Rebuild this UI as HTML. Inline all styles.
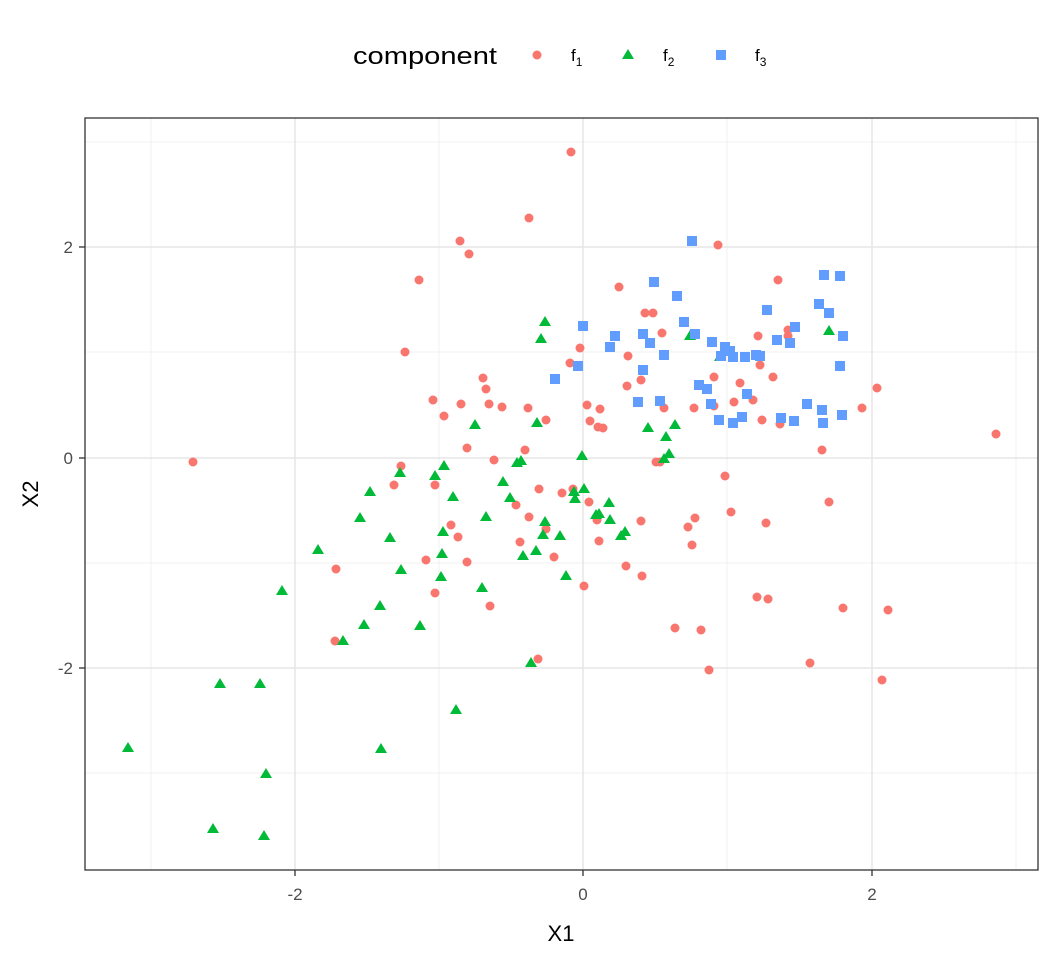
<!DOCTYPE html>
<html><head><style>body{margin:0;background:#fff}</style></head><body>
<svg width="1056" height="960" xmlns="http://www.w3.org/2000/svg" font-family="Liberation Sans, sans-serif">
<rect width="1056" height="960" fill="#fff"/>
<g stroke="#f0f0f0" stroke-width="1">
<line x1="151" y1="118" x2="151" y2="870"/><line x1="439" y1="118" x2="439" y2="870"/><line x1="727" y1="118" x2="727" y2="870"/><line x1="1016" y1="118" x2="1016" y2="870"/>
<line x1="85" y1="142" x2="1038" y2="142"/><line x1="85" y1="352" x2="1038" y2="352"/><line x1="85" y1="563" x2="1038" y2="563"/><line x1="85" y1="773" x2="1038" y2="773"/>
</g>
<g stroke="#e6e6e6" stroke-width="1.5">
<line x1="295" y1="118" x2="295" y2="870"/><line x1="583" y1="118" x2="583" y2="870"/><line x1="872" y1="118" x2="872" y2="870"/>
<line x1="85" y1="247" x2="1038" y2="247"/><line x1="85" y1="458" x2="1038" y2="458"/><line x1="85" y1="668" x2="1038" y2="668"/>
</g>
<g fill="#F8766D">
<circle cx="571" cy="152" r="4.5"/><circle cx="529" cy="218" r="4.5"/><circle cx="460" cy="241" r="4.5"/><circle cx="469" cy="254" r="4.5"/><circle cx="419" cy="280" r="4.5"/><circle cx="718" cy="245" r="4.5"/><circle cx="619" cy="287" r="4.5"/><circle cx="778" cy="280" r="4.5"/><circle cx="405" cy="352" r="4.5"/><circle cx="653" cy="313" r="4.5"/><circle cx="580" cy="348" r="4.5"/><circle cx="570" cy="363" r="4.5"/><circle cx="546" cy="420" r="4.5"/><circle cx="486" cy="389" r="4.5"/><circle cx="461" cy="404" r="4.5"/><circle cx="433" cy="400" r="4.5"/><circle cx="444" cy="416" r="4.5"/><circle cx="489" cy="404" r="4.5"/><circle cx="502" cy="407" r="4.5"/><circle cx="528" cy="408" r="4.5"/><circle cx="525" cy="450" r="4.5"/><circle cx="494" cy="460" r="4.5"/><circle cx="467" cy="448" r="4.5"/><circle cx="627" cy="386" r="4.5"/><circle cx="641" cy="380" r="4.5"/><circle cx="662" cy="333" r="4.5"/><circle cx="664" cy="408" r="4.5"/><circle cx="694" cy="408" r="4.5"/><circle cx="714" cy="406" r="4.5"/><circle cx="734" cy="402" r="4.5"/><circle cx="740" cy="383" r="4.5"/><circle cx="753" cy="400" r="4.5"/><circle cx="773" cy="377" r="4.5"/><circle cx="760" cy="365" r="4.5"/><circle cx="758" cy="336" r="4.5"/><circle cx="788" cy="330" r="4.5"/><circle cx="788" cy="336" r="4.5"/><circle cx="762" cy="420" r="4.5"/><circle cx="780" cy="424" r="4.5"/><circle cx="822" cy="450" r="4.5"/><circle cx="862" cy="408" r="4.5"/><circle cx="877" cy="388" r="4.5"/><circle cx="996" cy="434" r="4.5"/><circle cx="193" cy="462" r="4.5"/><circle cx="401" cy="466" r="4.5"/><circle cx="394" cy="485" r="4.5"/><circle cx="435" cy="485" r="4.5"/><circle cx="451" cy="525" r="4.5"/><circle cx="458" cy="537" r="4.5"/><circle cx="467" cy="562" r="4.5"/><circle cx="336" cy="569" r="4.5"/><circle cx="426" cy="560" r="4.5"/><circle cx="435" cy="593" r="4.5"/><circle cx="490" cy="606" r="4.5"/><circle cx="335" cy="641" r="4.5"/><circle cx="538" cy="659" r="4.5"/><circle cx="587" cy="405" r="4.5"/><circle cx="590" cy="421" r="4.5"/><circle cx="598" cy="427" r="4.5"/><circle cx="600" cy="409" r="4.5"/><circle cx="603" cy="428" r="4.5"/><circle cx="589" cy="502" r="4.5"/><circle cx="597" cy="520" r="4.5"/><circle cx="599" cy="541" r="4.5"/><circle cx="539" cy="489" r="4.5"/><circle cx="516" cy="505" r="4.5"/><circle cx="529" cy="517" r="4.5"/><circle cx="546" cy="529" r="4.5"/><circle cx="554" cy="557" r="4.5"/><circle cx="520" cy="542" r="4.5"/><circle cx="584" cy="586" r="4.5"/><circle cx="626" cy="566" r="4.5"/><circle cx="642" cy="576" r="4.5"/><circle cx="641" cy="521" r="4.5"/><circle cx="656" cy="462" r="4.5"/><circle cx="688" cy="527" r="4.5"/><circle cx="692" cy="545" r="4.5"/><circle cx="695" cy="518" r="4.5"/><circle cx="725" cy="476" r="4.5"/><circle cx="731" cy="512" r="4.5"/><circle cx="675" cy="628" r="4.5"/><circle cx="701" cy="630" r="4.5"/><circle cx="709" cy="670" r="4.5"/><circle cx="757" cy="597" r="4.5"/><circle cx="768" cy="599" r="4.5"/><circle cx="810" cy="663" r="4.5"/><circle cx="843" cy="608" r="4.5"/><circle cx="888" cy="610" r="4.5"/><circle cx="882" cy="680" r="4.5"/><circle cx="829" cy="502" r="4.5"/><circle cx="483" cy="378" r="4.5"/><circle cx="562" cy="493" r="4.5"/><circle cx="573" cy="489" r="4.5"/><circle cx="628" cy="356" r="4.5"/><circle cx="645" cy="313" r="4.5"/><circle cx="714" cy="377" r="4.5"/><circle cx="660" cy="462" r="4.5"/><circle cx="766" cy="523" r="4.5"/>
</g>
<g fill="#00BA38">
<path d="M128,742l6,10h-12z M213,823l6,10h-12z M264,830l6,10h-12z M266,768l6,10h-12z M220,678l6,10h-12z M260,678l6,10h-12z M282,585l6,10h-12z M343,635l6,10h-12z M318,544l6,10h-12z M360,512l6,10h-12z M370,486l6,10h-12z M400,467l6,10h-12z M401,564l6,10h-12z M390,532l6,10h-12z M380,600l6,10h-12z M364,619l6,10h-12z M420,620l6,10h-12z M381,743l6,10h-12z M435,470l6,10h-12z M444,460l6,10h-12z M453,491l6,10h-12z M443,526l6,10h-12z M442,548l6,10h-12z M441,571l6,10h-12z M456,704l6,10h-12z M475,419l6,10h-12z M486,511l6,10h-12z M482,582l6,10h-12z M503,476l6,10h-12z M510,492l6,10h-12z M517,457l6,10h-12z M521,455l6,10h-12z M523,550l6,10h-12z M531,657l6,10h-12z M541,333l6,10h-12z M545,316l6,10h-12z M537,417l6,10h-12z M545,516l6,10h-12z M543,529l6,10h-12z M536,545l6,10h-12z M560,530l6,10h-12z M566,570l6,10h-12z M574,486l6,10h-12z M582,450l6,10h-12z M584,483l6,10h-12z M596,509l6,10h-12z M609,497l6,10h-12z M610,514l6,10h-12z M621,530l6,10h-12z M625,526l6,10h-12z M648,422l6,10h-12z M664,453l6,10h-12z M669,448l6,10h-12z M675,419l6,10h-12z M666,431l6,10h-12z M690,330l6,10h-12z M720,351l6,10h-12z M829,325l6,10h-12z M575,493l6,10h-12z M599,508l6,10h-12z"/>
</g>
<g fill="#619CFF">
<path d="M578,321h10v10h-10z M550,374h10v10h-10z M573,361h10v10h-10z M605,342h10v10h-10z M610,331h10v10h-10z M638,329h10v10h-10z M645,338h10v10h-10z M649,277h10v10h-10z M672,291h10v10h-10z M679,317h10v10h-10z M690,329h10v10h-10z M707,337h10v10h-10z M720,342h10v10h-10z M716,351h10v10h-10z M725,346h10v10h-10z M659,350h10v10h-10z M694,380h10v10h-10z M702,384h10v10h-10z M706,399h10v10h-10z M714,415h10v10h-10z M737,412h10v10h-10z M742,389h10v10h-10z M728,418h10v10h-10z M728,352h10v10h-10z M740,352h10v10h-10z M751,350h10v10h-10z M755,351h10v10h-10z M762,305h10v10h-10z M772,335h10v10h-10z M785,338h10v10h-10z M790,322h10v10h-10z M819,270h10v10h-10z M814,299h10v10h-10z M835,271h10v10h-10z M824,308h10v10h-10z M838,331h10v10h-10z M835,361h10v10h-10z M776,413h10v10h-10z M789,416h10v10h-10z M802,399h10v10h-10z M818,418h10v10h-10z M817,405h10v10h-10z M837,410h10v10h-10z M633,397h10v10h-10z M655,396h10v10h-10z M638,365h10v10h-10z M687,236h10v10h-10z"/>
</g>
<rect x="85" y="118" width="953" height="752" fill="none" stroke="#333" stroke-width="1.3"/>
<g stroke="#333" stroke-width="1.3">
<line x1="295" y1="870" x2="295" y2="876"/><line x1="583" y1="870" x2="583" y2="876"/><line x1="872" y1="870" x2="872" y2="876"/>
<line x1="79" y1="247" x2="85" y2="247"/><line x1="79" y1="458" x2="85" y2="458"/><line x1="79" y1="668" x2="85" y2="668"/>
</g>
<g font-size="17" fill="#4d4d4d">
<text x="295" y="900" text-anchor="middle">-2</text><text x="583" y="900" text-anchor="middle">0</text><text x="872" y="900" text-anchor="middle">2</text>
<text x="73" y="253" text-anchor="end">2</text><text x="73" y="464" text-anchor="end">0</text><text x="73" y="674" text-anchor="end">-2</text>
</g>
<text x="561" y="941" font-size="22" text-anchor="middle">X1</text>
<text transform="translate(38,494) rotate(-90)" font-size="22" text-anchor="middle">X2</text>
<text x="353" y="64" font-size="24" textLength="144" lengthAdjust="spacingAndGlyphs">component</text>
<circle cx="537" cy="55" r="4.5" fill="#F8766D"/>
<path d="M628,49l6,10h-12z" fill="#00BA38"/>
<rect x="716" y="50" width="10" height="10" fill="#619CFF"/>
<g font-size="17"><text x="571" y="61">f<tspan font-size="12" dy="5">1</tspan></text>
<text x="663" y="61">f<tspan font-size="12" dy="5">2</tspan></text>
<text x="755" y="61">f<tspan font-size="12" dy="5">3</tspan></text></g>
</svg>
</body></html>
